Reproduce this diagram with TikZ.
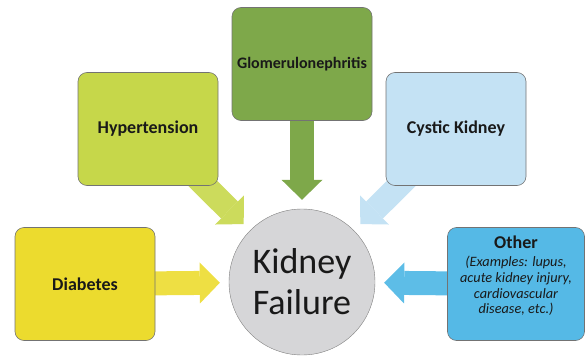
\documentclass[tikz,border=0pt]{standalone}
\usepackage{fontspec}
\setmainfont{Carlito}
\usetikzlibrary{arrows.meta,backgrounds}
\definecolor{diabfill}{RGB}{236,219,46}
\definecolor{hypfill}{RGB}{198,215,74}
\definecolor{glomfill}{RGB}{126,168,74}
\definecolor{cystfill}{RGB}{196,226,244}
\definecolor{othfill}{RGB}{85,185,230}
\definecolor{kfgray}{RGB}{214,214,216}
\begin{document}
\begin{tikzpicture}[x=1pt,y=-1pt,
  box/.style={shape=rectangle,rounded corners=9pt,draw=black!55,line width=0.6pt,minimum width=140pt,minimum height=113pt,inner sep=0pt,text=black!90,font=\bfseries\fontsize{18}{20}\selectfont},
  fat/.style={line width=24pt,-{Triangle[width=41pt,length=20pt,line width=0pt]},shorten >=9pt}]
\useasboundingbox (0,0) rectangle (587,356);

\node[shape=circle,draw=black!50,fill=kfgray,minimum size=146pt,inner sep=0pt,align=center,font=\fontsize{36}{41}\selectfont,text=black!90] (kidney) at (302,282) {Kidney\\Failure};

\node[box,fill=diabfill] (diab) at (85,284) {Diabetes};
\node[box,fill=hypfill] (hyp) at (148,129) {Hypertension};
\node[box,fill=glomfill,font=\bfseries\fontsize{16}{18}\selectfont] (glom) at (302,64) {Glomerulonephritis};
\node[box,fill=cystfill] (cyst) at (456,129) {Cystic Kidney};
\node[box,fill=othfill,minimum width=137pt] (oth) at (516,284) {};
\node[align=center,text=black!90,font=\fontsize{14.3}{15.8}\selectfont] (othtext) at (516,276) {\textbf{\fontsize{18}{20}\selectfont Other}\\[2pt]\itshape (Examples: lupus,\\\itshape acute kidney injury,\\\itshape cardiovascular\\\itshape disease, etc.)};

\begin{scope}[on background layer]
\path[fat,draw=diabfill!90!white] (diab.center) -- (kidney);
\path[fat,draw=hypfill!90!white] (hyp.center) -- (kidney);
\path[fat,draw=glomfill] (glom.center) -- (kidney);
\path[fat,draw=cystfill] (cyst.center) -- (kidney);
\path[fat,draw=othfill!95!white] (oth.center) -- (kidney);
\end{scope}
\end{tikzpicture}
\end{document}
